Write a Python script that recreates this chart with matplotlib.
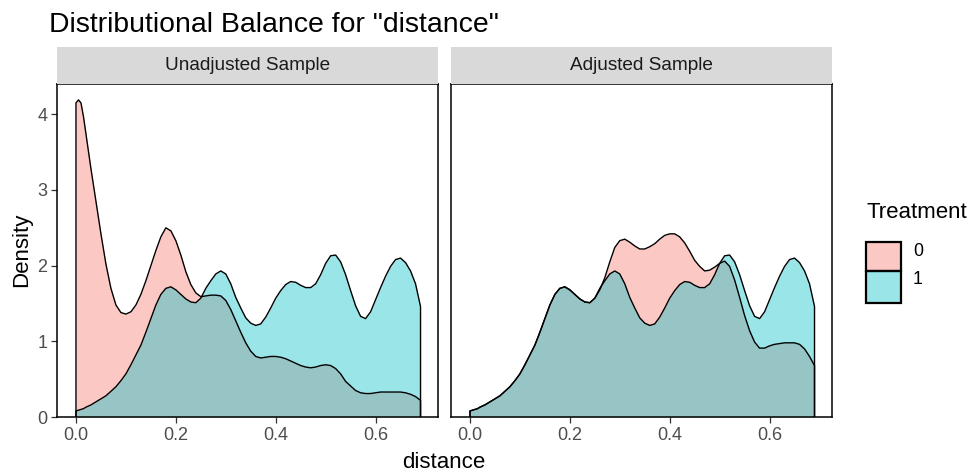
import matplotlib
matplotlib.use("Agg")
import matplotlib.pyplot as plt
from matplotlib.patches import Rectangle
import numpy as np

plt.rcParams['font.family'] = ['Liberation Sans', 'DejaVu Sans']

# ---------------- data ----------------
title = 'Distributional Balance for "distance"'
panels = ["Unadjusted Sample", "Adjusted Sample"]
groups = ["0", "1"]
x_label = "distance"
y_label = "Density"
x_ticks = [0.0, 0.2, 0.4, 0.6]
y_ticks = [0, 1, 2, 3, 4]

# grid of distance values at which the densities were read
dist = [0.000, 0.005, 0.010, 0.015, 0.020, 0.030, 0.040, 0.050, 0.060, 0.070,
        0.080, 0.090, 0.100, 0.110, 0.120, 0.130, 0.140, 0.150, 0.160, 0.170,
        0.180, 0.190, 0.200, 0.210, 0.220, 0.230, 0.240, 0.250, 0.260, 0.270,
        0.280, 0.290, 0.300, 0.310, 0.320, 0.330, 0.340, 0.350, 0.360, 0.370,
        0.380, 0.390, 0.400, 0.410, 0.420, 0.430, 0.440, 0.450, 0.460, 0.470,
        0.480, 0.490, 0.500, 0.510, 0.520, 0.530, 0.540, 0.550, 0.560, 0.570,
        0.580, 0.590, 0.600, 0.610, 0.620, 0.630, 0.640, 0.650, 0.660, 0.670,
        0.680, 0.690]

# Unadjusted, treatment 0
unadj_t0 = [4.15, 4.19, 4.15, 3.97, 3.74, 3.28, 2.85, 2.42, 2.02, 1.70,
            1.48, 1.38, 1.36, 1.39, 1.48, 1.62, 1.80, 2.00, 2.20, 2.38,
            2.50, 2.46, 2.33, 2.14, 1.92, 1.75, 1.64, 1.59, 1.60, 1.61,
            1.61, 1.60, 1.54, 1.42, 1.27, 1.12, 0.98, 0.87, 0.80, 0.78,
            0.79, 0.80, 0.80, 0.79, 0.77, 0.74, 0.71, 0.68, 0.66, 0.65,
            0.66, 0.68, 0.69, 0.68, 0.64, 0.57, 0.47, 0.41, 0.35, 0.32,
            0.31, 0.31, 0.32, 0.33, 0.33, 0.33, 0.33, 0.33, 0.32, 0.30,
            0.27, 0.22]

# Treatment 1 (identical in both panels)
t1 = [0.08, 0.09, 0.10, 0.11, 0.13, 0.16, 0.20, 0.24, 0.28, 0.34,
      0.40, 0.48, 0.57, 0.69, 0.82, 0.95, 1.12, 1.30, 1.48, 1.62,
      1.70, 1.72, 1.68, 1.62, 1.56, 1.52, 1.51, 1.57, 1.70, 1.80,
      1.89, 1.93, 1.89, 1.76, 1.58, 1.44, 1.31, 1.24, 1.21, 1.23,
      1.32, 1.44, 1.57, 1.67, 1.75, 1.79, 1.78, 1.74, 1.71, 1.71,
      1.76, 1.88, 2.03, 2.13, 2.14, 2.05, 1.88, 1.67, 1.47, 1.33,
      1.30, 1.39, 1.55, 1.71, 1.86, 1.99, 2.08, 2.10, 2.04, 1.93,
      1.76, 1.46]

# Adjusted, treatment 0
adj_t0 = [0.08, 0.09, 0.10, 0.11, 0.13, 0.16, 0.20, 0.24, 0.28, 0.34,
          0.40, 0.48, 0.57, 0.69, 0.82, 0.95, 1.12, 1.30, 1.48, 1.62,
          1.70, 1.72, 1.68, 1.62, 1.56, 1.52, 1.51, 1.57, 1.68, 1.84,
          2.05, 2.24, 2.33, 2.35, 2.31, 2.26, 2.22, 2.22, 2.25, 2.29,
          2.35, 2.40, 2.42, 2.42, 2.38, 2.30, 2.19, 2.07, 1.99, 1.93,
          1.94, 1.98, 2.03, 2.06, 1.99, 1.81, 1.58, 1.34, 1.14, 0.99,
          0.91, 0.91, 0.94, 0.96, 0.97, 0.98, 0.98, 0.98, 0.96, 0.90,
          0.80, 0.68]

series = {
    panels[0]: {"0": unadj_t0, "1": t1},
    panels[1]: {"0": adj_t0, "1": t1},
}

# ---------------- styling ----------------
W, H = 971, 474
fill_colors = {"0": "#F8766D", "1": "#00BFC4"}
alpha = 0.4

fig = plt.figure(figsize=(W / 100, H / 100), dpi=100)

def fx(px):
    return px / W

def fy(py):
    return 1 - py / H

panel_left = [57, 451]
panel_w = 381
panel_top, panel_bot = 84, 417
strip_top = 47

for i, pname in enumerate(panels):
    ax = fig.add_axes([fx(panel_left[i]), fy(panel_bot), panel_w / W,
                       (panel_bot - panel_top) / H])
    ax.set_xlim(-0.038, 0.725)
    ax.set_ylim(0, 4.40)
    xs = np.array(dist)
    for g in groups:
        ys = np.array(series[pname][g])
        ax.fill_between(xs, 0, ys, color=fill_colors[g], alpha=alpha, lw=0)
        ox = np.concatenate([[xs[0]], xs, [xs[-1]]])
        oy = np.concatenate([[0], ys, [0]])
        ax.plot(ox, oy, color="black", lw=1.0, solid_joinstyle="round")
    ax.set_xticks(x_ticks)
    ax.set_xticklabels([f"{t:.1f}" for t in x_ticks])
    ax.tick_params(axis="x", length=4, width=0.9, color="#333333",
                   labelcolor="#4D4D4D", labelsize=13, pad=3)
    if i == 0:
        ax.set_yticks(y_ticks)
        ax.set_yticklabels([str(t) for t in y_ticks])
        ax.tick_params(axis="y", length=4, width=0.9, color="#333333",
                       labelcolor="#4D4D4D", labelsize=13, pad=3)
    else:
        ax.set_yticks([])
    for sp in ax.spines.values():
        sp.set_color("black")
        sp.set_linewidth(1.1)
        sp.set_zorder(5)
    # strip
    sax = fig.add_axes([fx(panel_left[i]), fy(panel_top), panel_w / W,
                        (panel_top - strip_top) / H])
    sax.set_xlim(0, 1)
    sax.set_ylim(0, 1)
    sax.set_facecolor("#D9D9D9")
    for sp in sax.spines.values():
        sp.set_visible(False)
    sax.set_xticks([])
    sax.set_yticks([])
    sax.text(0.5, 0.5, pname, ha="center", va="center", fontsize=13.7,
             color="#1A1A1A")

# title and axis labels
fig.text(fx(49), fy(32), title, ha="left", va="baseline", fontsize=20.4,
         color="black")
fig.text(fx(444), fy(468), x_label, ha="center", va="baseline", fontsize=16,
         color="black")
fig.text(fx(22), fy(250), y_label, ha="center", va="center", rotation=90,
         fontsize=16, color="black")

# legend
fig.text(fx(866), fy(213), "Treatment", ha="left", va="center", fontsize=16,
         color="black")
key_y = [(242, 271), (271, 303)]
label_y = [251, 279]
for g, (t, b), ly in zip(groups, key_y, label_y):
    fig.patches.append(Rectangle((fx(866), fy(b)), 35 / W, (b - t) / H,
                                 transform=fig.transFigure,
                                 facecolor=fill_colors[g], alpha=alpha,
                                 edgecolor="none"))
    fig.patches.append(Rectangle((fx(866), fy(b)), 35 / W, (b - t) / H,
                                 transform=fig.transFigure,
                                 facecolor="none", edgecolor="black", lw=1.6))
    fig.text(fx(913), fy(ly), g, ha="left", va="center", fontsize=12.8,
             color="black")

fig.savefig("out.png", dpi=100)
